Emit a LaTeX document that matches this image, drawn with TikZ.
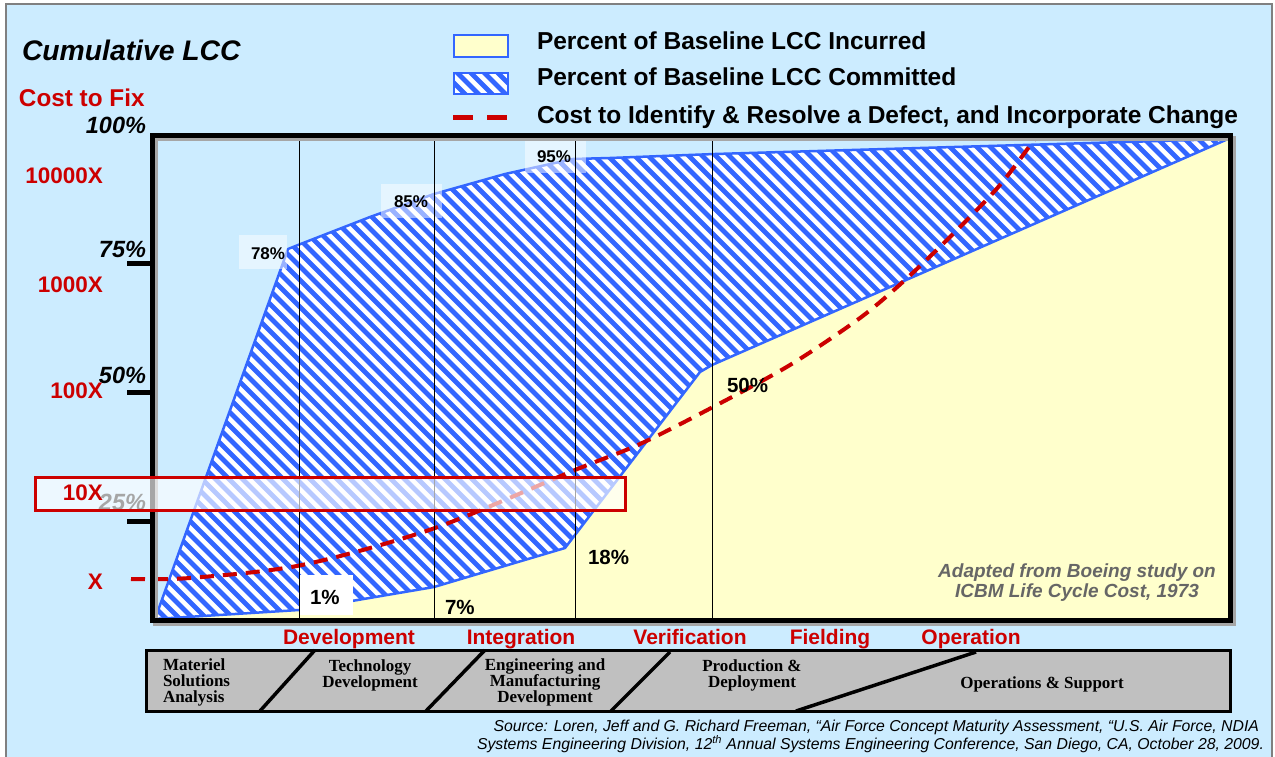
\documentclass[tikz,border=0pt]{standalone}
\usepackage{fontspec}
\setmainfont{Liberation Sans}
\newfontfamily\barfont{Liberation Serif}
\usetikzlibrary{calc}

\definecolor{pagebg}{RGB}{204,236,255}
\definecolor{incur}{RGB}{255,255,204}
\definecolor{commitblue}{RGB}{51,102,255}
\definecolor{fixred}{RGB}{204,0,0}
\definecolor{notegray}{RGB}{102,102,102}
\definecolor{barfill}{RGB}{192,192,192}

% diagonal blue/white hatching inside a closed path
\newcommand{\hatchfill}[1]{%
  \begin{scope}
    \clip #1;
    \fill[white] #1;
    \foreach \c in {-620,-606.5,...,1120}
      \draw[commitblue, line width=4.8pt] (\c,-100) -- ++(900,900);
  \end{scope}}

\tikzset{
  lbl/.style={inner sep=0pt, outer sep=0pt},
  redlbl/.style={lbl, text=fixred, font=\bfseries\fontsize{22.5}{24}\selectfont, anchor=base east},
  axlbl/.style={lbl, font=\bfseries\itshape\fontsize{23.5}{24}\selectfont, anchor=base east},
  pctlbl/.style={lbl, font=\bfseries\fontsize{17}{18}\selectfont, anchor=base west},
  bigpct/.style={lbl, font=\bfseries\fontsize{20.5}{22}\selectfont, anchor=base west},
  legtext/.style={lbl, font=\bfseries\fontsize{24.5}{26}\selectfont, anchor=base west},
  phaselbl/.style={lbl, text=fixred, font=\bfseries\fontsize{21}{22}\selectfont, anchor=base},
  bartext/.style={lbl, font=\barfont\bfseries\fontsize{17}{16}\selectfont},
  srctext/.style={lbl, font=\itshape\fontsize{15.8}{16}\selectfont, anchor=base east},
  labelbox/.style={fill=white, fill opacity=0.5, draw=none},
  phaseline/.style={line width=3.5pt, black},
  costcurve/.style={fixred, line width=4pt, dash pattern=on 14pt off 9pt},
}

\begin{document}
\begin{tikzpicture}[x=1pt, y=-1pt]
\useasboundingbox (0,0) rectangle (1275,757);
\fill[white] (0,0) rectangle (1275,757);
\filldraw[fill=pagebg, draw=gray, line width=1.5pt] (6,4) rectangle (1272,780);

% ---------- title and legend ----------
\node[lbl, font=\bfseries\itshape\fontsize{28.3}{30}\selectfont, anchor=base west] (title) at (22,61) {Cumulative LCC};

\filldraw[fill=incur, draw=commitblue, line width=2.5pt] (454,35) rectangle (508,57);
\hatchfill{(454,73) rectangle (508,94)}
\draw[commitblue, line width=2.5pt] (454,73) rectangle (508,94);
\coordinate (legD1) at (453,118);
\coordinate (legD2) at (507,118);
\draw[fixred, line width=5pt, dash pattern=on 20pt off 14pt] (legD1) -- (legD2);

\node[legtext] (leg1) at (537,50) {Percent of Baseline LCC Incurred};
\node[legtext] (leg2) at (537,86) {Percent of Baseline LCC Committed};
\node[legtext] (leg3) at (537,124) {Cost to Identify \& Resolve a Defect, and Incorporate Change};

% ---------- incurred area ----------
\fill[incur] (155,619) -- (299,610) -- (434,587) -- (565,548) -- (700,372)
  -- (712,365) -- (1228,139) -- (1230,139) -- (1230,620) -- (152,620) -- cycle;

% ---------- committed area ----------
\hatchfill{(155,619) -- (288,249) -- (298,245) -- (370,217) -- (434,194) -- (505,174)
  -- (573,159) -- (610,158) -- (715,154) -- (1228,139) -- (712,365) -- (700,372)
  -- (565,548) -- (434,587) -- (299,610) -- cycle}
\draw[commitblue, line width=2.5pt, line join=round] (155,619) -- (288,249) -- (298,245) -- (370,217) -- (434,194) -- (505,174)
  -- (573,159) -- (610,158) -- (715,154) -- (1228,139) -- (712,365) -- (700,372)
  -- (565,548) -- (434,587) -- (299,610) -- cycle;

% ---------- cost-to-fix curve ----------
\draw[costcurve] plot[smooth, tension=0.5] coordinates {(131,579) (190,578) (302,565) (435,528)
  (575,470) (640,444) (713,407) (790,365) (860,318) (905,280) (955,232) (1000,185) (1034,140)};

% ---------- value labels ----------
\fill[labelbox] (239,235) rectangle (287,269);
\fill[labelbox] (381,184) rectangle (442,218);
\fill[labelbox] (525,139) rectangle (586,173);
\fill[white] (300,575) rectangle (353,615);

% phase separators
\foreach \x in {299,434.5,575.5,712.7}
  \draw[black, line width=1pt] (\x,136) -- (\x,620);

\node[pctlbl] (p78) at (251,259) {78\%};
\node[pctlbl] (p85) at (394,207.5) {85\%};
\node[pctlbl] (p95) at (537,163) {95\%};
\node[bigpct] (p1) at (310,604) {1\%};
\node[bigpct] (p7) at (445,614) {7\%};
\node[bigpct] (p18) at (588,564) {18\%};
\node[bigpct] (p50) at (727,392) {50\%};

\node[lbl, text=notegray, align=center, font=\bfseries\itshape\fontsize{19}{20}\selectfont] (note) at (1077,583)
  {Adapted from Boeing study on\\ICBM Life Cycle Cost, 1973};

% ---------- chart frame and axis ----------
\draw[gray!70, line width=5pt] (155,139) rectangle (1233,623);
\draw[black, line width=5pt] (152,136) rectangle (1230,620);
\foreach \y in {263,392.5,521.5}
  \draw[black, line width=5pt] (127,\y) -- (152,\y);

\node[axlbl] (a100) at (146,134) {100\%};
\node[axlbl] (a75) at (146,257) {75\%};
\node[axlbl] (a50) at (146,383) {50\%};
\node[axlbl] (a25) at (146,510) {25\%};

\node[lbl, text=fixred, font=\bfseries\fontsize{24.3}{26}\selectfont, anchor=base west] (fixtitle) at (19,107) {Cost to Fix};
\node[redlbl] (r10000) at (103,184) {10000X};
\node[redlbl] (r1000) at (103,292) {1000X};
\node[redlbl] (r100) at (103,398) {100X};
\node[redlbl] (r1) at (103,589) {X};

% highlighted 10X band
\draw[draw=fixred, line width=3pt, fill=white, fill opacity=0.65] (35,477) rectangle (625,510);
\node[redlbl] (r10) at (103,500) {10X};

% ---------- life-cycle phases ----------
\node[phaselbl] (ph1) at (349,644) {Development};
\node[phaselbl] (ph2) at (521,644) {Integration};
\node[phaselbl] (ph3) at (690,644) {Verification};
\node[phaselbl] (ph4) at (830,644) {Fielding};
\node[phaselbl] (ph5) at (971,644) {Operation};

\filldraw[fill=barfill, draw=black, line width=3pt] (146,650) rectangle (1230,711);
\draw[phaseline] (260,711) -- (315,650);
\draw[phaseline] (426,711) -- (485,650);
\draw[phaseline] (611,711) -- (670,652);
\draw[phaseline] (796,711) -- (976,652);

\node[bartext, align=left, anchor=west] (b1) at (163,682) {Materiel\\Solutions\\Analysis};
\node[bartext, align=center] (b2) at (370,675.5) {Technology\\Development};
\node[bartext, align=center] (b3) at (545,682) {Engineering and\\Manufacturing\\Development};
\node[bartext, align=center] (b4) at (752,675.5) {Production \&\\Deployment};
\node[bartext, anchor=base] (b5) at (1042,688) {Operations \& Support};

% ---------- source ----------
\node[srctext] (src1) at (1259,731.5) {Source: Loren, Jeff and G. Richard Freeman, “Air Force Concept Maturity Assessment, “U.S. Air Force, NDIA};
\node[srctext] (src2) at (1264,749) {Systems Engineering Division, 12\textsuperscript{th} Annual Systems Engineering Conference, San Diego, CA, October 28, 2009.};
\end{tikzpicture}
\end{document}
